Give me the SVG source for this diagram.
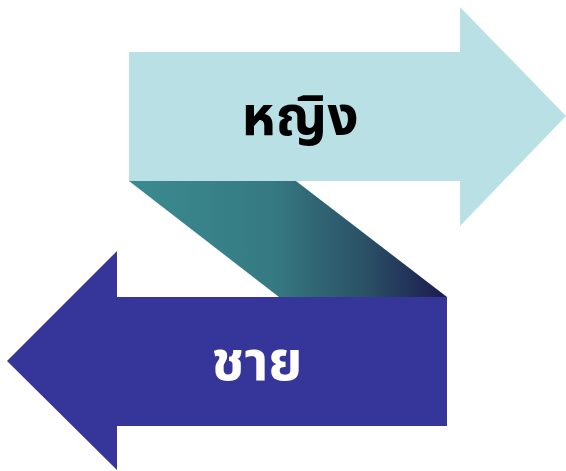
<svg xmlns="http://www.w3.org/2000/svg" width="566" height="471" viewBox="0 0 566 471">
<defs>
<linearGradient id="g" x1="129" y1="0" x2="447" y2="0" gradientUnits="userSpaceOnUse">
<stop offset="0" stop-color="#3a8b90"/>
<stop offset="0.45" stop-color="#367a82"/>
<stop offset="0.75" stop-color="#2a4f65"/>
<stop offset="1" stop-color="#1b1b4e"/>
</linearGradient>
<style>
.lbl{font-family:"Noto Sans Thai","Noto Sans","Liberation Sans",sans-serif;font-weight:bold;font-size:55px;text-anchor:middle}
</style>
</defs>
<g id="connector-band">
<polygon points="129,181 296,181 447,297 279,297" fill="url(#g)"/>
</g>
<g id="node-female">
<polygon points="129,52 460,52 460,7 566,116 460,226 460,181 129,181" fill="#b9e0e4"/>
<text class="lbl" x="300" y="135" fill="#000">หญิง</text>
</g>
<g id="node-male">
<polygon points="447,297 117,297 117,251 7,361 117,470 117,426 447,426" fill="#363599"/>
<text class="lbl" x="257" y="380" fill="#fff">ชาย</text>
</g>
</svg>
